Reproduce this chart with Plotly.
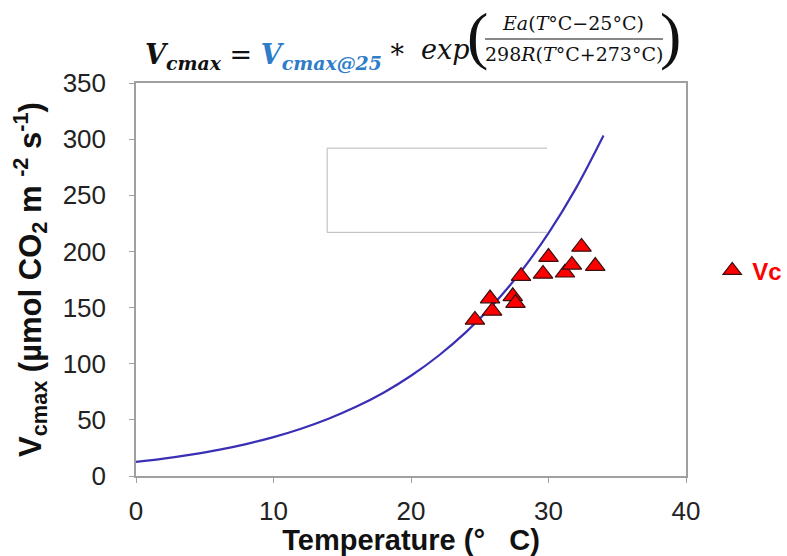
import plotly.graph_objects as go

# Observed Vcmax (triangles)
obs_temp = [24.65, 25.75, 25.9, 27.4, 27.6, 28.0, 30.0, 29.6, 31.2, 31.7, 32.4, 33.4]
obs_vcmax = [139, 158, 147, 160, 154, 178, 195, 180, 181, 188, 204, 187]

# Modelled curve
curve_temp = [0, 2, 4, 6, 8, 10, 12, 14, 16, 18, 20, 22, 24, 26, 28, 30, 32, 34]
curve_vcmax = [12.5, 15.4, 19.0, 23.2, 28.4, 34.6, 42.1, 51.0, 61.6, 74.2, 89.3,
               107.1, 128.1, 152.9, 182.1, 216.3, 256.4, 303.3]

x_ticks = [0, 10, 20, 30, 40]
y_ticks = [0, 50, 100, 150, 200, 250, 300, 350]

L, R, T, B = 136, 686, 83, 476
W, H = R - L, B - T


def px(x):
    return (x - L) / W


def py(y):
    return (B - y) / H


fig = go.Figure()
fig.add_trace(go.Scatter(
    x=curve_temp, y=curve_vcmax, mode="lines", line=dict(color="#3a2fb5", width=2.2, shape="spline"),
    showlegend=False, hoverinfo="skip"))
fig.add_trace(go.Scatter(
    x=obs_temp, y=obs_vcmax, mode="markers", name="<b>Vc</b>",
    marker=dict(symbol="triangle-up", size=17, color="#ff0000", line=dict(color="#3a1010", width=1.2))))

axis_common = dict(showline=True, linecolor="#a0a0a0", linewidth=1.5, mirror=True,
                   ticks="outside", ticklen=5, tickcolor="#a0a0a0", showgrid=False, zeroline=False,
                   tickfont=dict(family="Liberation Sans, Arial", size=26, color="#222222"))

fig.update_xaxes(range=[0, 40], tickvals=x_ticks, ticklabelstandoff=6,
                 title=dict(text="<b>Temperature (°   C)</b>", standoff=8,
                            font=dict(family="Liberation Sans, Arial", size=29, color="#111111")),
                 **axis_common)
fig.update_yaxes(range=[0, 350], tickvals=y_ticks, ticklabelstandoff=18,
                 title=dict(text="<b>V<sub>cmax</sub> (µmol CO<sub>2</sub> m <sup>-2</sup> s<sup>-1</sup>)</b>", standoff=12,
                            font=dict(family="Liberation Sans, Arial", size=31, color="#111111")),
                 **axis_common)

# empty open box inside the plot
fig.add_shape(type="path", xref="x", yref="y",
              path="M 29.9 292 L 13.9 292 L 13.9 217 L 29.9 217",
              line=dict(color="#b8b8b8", width=1))

serif = "DejaVu Serif, Liberation Serif, serif"
thin_serif = "Liberation Serif, serif"
fig.add_annotation(xref="paper", yref="paper", x=px(143), y=py(56), xanchor="left", yanchor="middle",
                   showarrow=False, align="left",
                   text=("<b><i>V<sub>cmax</sub></i></b> = "
                         "<b><i><span style='color:#2f7dc8'>V<sub>cmax@25</sub></span></i></b> *"),
                   font=dict(family=serif, size=27, color="#111111"))
fig.add_annotation(xref="paper", yref="paper", x=px(472), y=py(50), xanchor="right", yanchor="middle",
                   showarrow=False, text="<i>exp</i>",
                   font=dict(family=serif, size=27, color="#111111"))
# exponent fraction
fig.add_annotation(xref="paper", yref="paper", x=px(573), y=py(23), xanchor="center", yanchor="middle",
                   showarrow=False, text="<i>Ea</i>(<i>T</i>°C−25°C)",
                   font=dict(family=serif, size=19, color="#111111"))
fig.add_annotation(xref="paper", yref="paper", x=px(574), y=py(54), xanchor="center", yanchor="middle",
                   showarrow=False, text="298<i>R</i>(<i>T</i>°C+273°C)",
                   font=dict(family=serif, size=19, color="#111111"))
fig.add_shape(type="line", xref="paper", yref="paper",
              x0=px(485), x1=px(663), y0=py(39), y1=py(39),
              line=dict(color="#111111", width=1))
fig.add_annotation(xref="paper", yref="paper", x=px(477), y=py(36), xanchor="center", yanchor="middle",
                   showarrow=False, text="(", font=dict(family=thin_serif, size=64, color="#111111"))
fig.add_annotation(xref="paper", yref="paper", x=px(670), y=py(36), xanchor="center", yanchor="middle",
                   showarrow=False, text=")", font=dict(family=thin_serif, size=64, color="#111111"))

fig.update_layout(
    width=787, height=556,
    margin=dict(l=L, r=787 - R, t=T, b=556 - B, autoexpand=False),
    paper_bgcolor="white", plot_bgcolor="white",
    legend=dict(xref="container", yref="container", x=0.905, y=0.513, xanchor="left", yanchor="middle",
                bgcolor="rgba(0,0,0,0)",
                font=dict(family="Liberation Sans, Arial", size=24, color="#ff0000"),
                itemwidth=30),
)

fig.write_html("out.html")
